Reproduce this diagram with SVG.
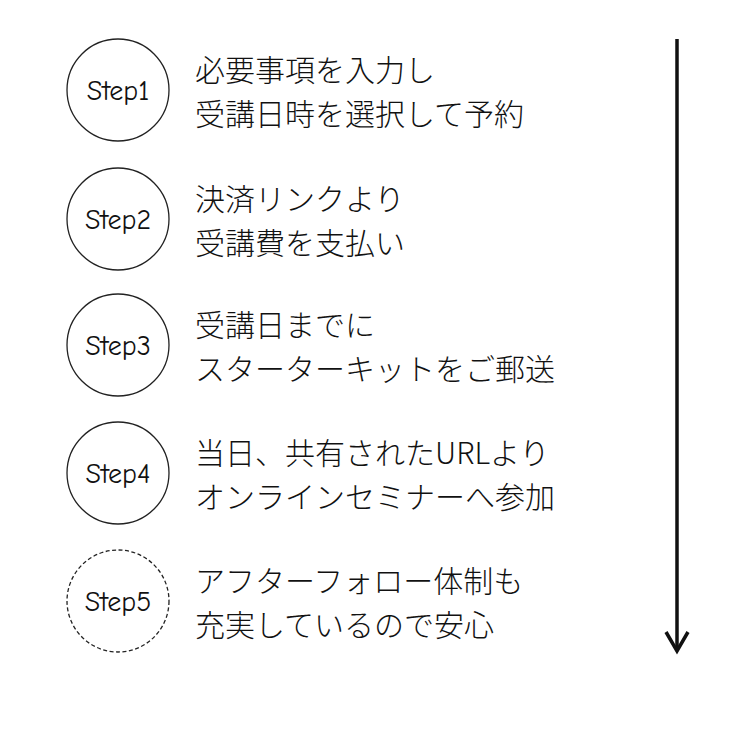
<svg xmlns="http://www.w3.org/2000/svg" width="750" height="745" viewBox="0 0 750 745">
<style>
.c{fill:#fff;stroke:#222;stroke-width:1.3}
.d{stroke-dasharray:4 2.5}
.s{font-family:"Comic Neue","DejaVu Sans",sans-serif;font-size:28px;fill:#111;text-anchor:middle}
.t{font-family:"Noto Sans CJK JP","Noto Sans",sans-serif;font-weight:300;font-size:30px;fill:#111}
</style>
<rect width="750" height="745" fill="#fff"/>
<g id="step1"><circle class="c" cx="118" cy="90" r="51"/><text class="s" x="118" y="100">Step1</text>
<text class="t" x="195" y="81">必要事項を入力し</text><text class="t" x="195" y="125">受講日時を選択して予約</text></g>
<g id="step2"><circle class="c" cx="118" cy="219" r="51"/><text class="s" x="118" y="229">Step2</text>
<text class="t" x="195" y="210">決済リンクより</text><text class="t" x="195" y="254">受講費を支払い</text></g>
<g id="step3"><circle class="c" cx="118" cy="345" r="51"/><text class="s" x="118" y="355">Step3</text>
<text class="t" x="195" y="336">受講日までに</text><text class="t" x="195" y="380">スターターキットをご郵送</text></g>
<g id="step4"><circle class="c" cx="118" cy="473" r="51"/><text class="s" x="118" y="483">Step4</text>
<text class="t" x="195" y="464">当日、共有されたURLより</text><text class="t" x="195" y="508">オンラインセミナーへ参加</text></g>
<g id="step5"><circle class="c d" cx="118" cy="601" r="51"/><text class="s" x="118" y="611">Step5</text>
<text class="t" x="195" y="592">アフターフォロー体制も</text><text class="t" x="195" y="636">充実しているので安心</text></g>
<g id="connectors" fill="none" stroke="#111" stroke-width="3.5">
<line x1="677" y1="39" x2="677" y2="650"/>
<polyline points="666,632 677,651 688,632" stroke-linejoin="miter"/>
</g>
</svg>
